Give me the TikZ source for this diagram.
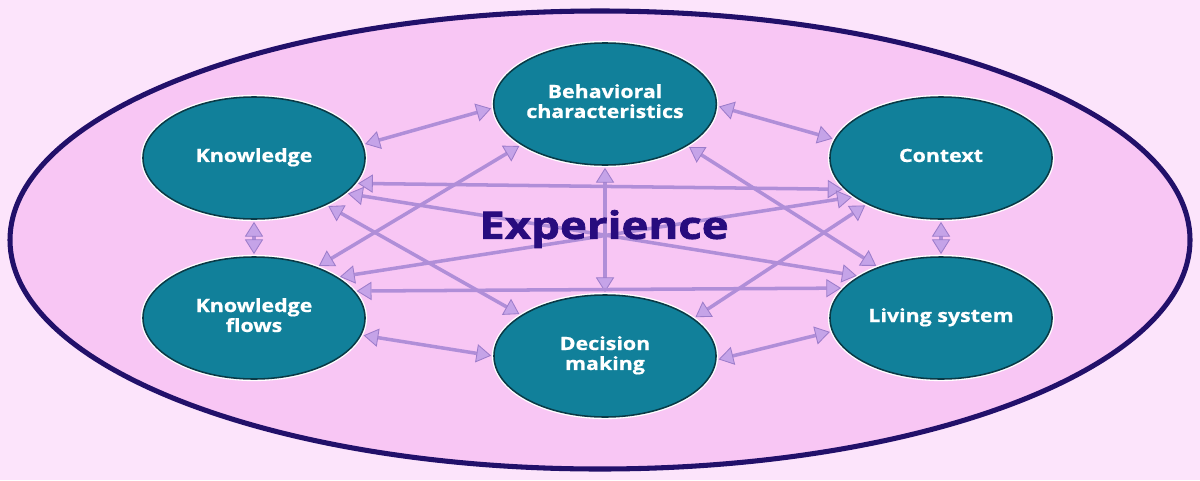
\documentclass[tikz,border=0pt]{standalone}
\usepackage{fontspec}
\setmainfont{Open Sans}
\newfontfamily\expfont{Open Sans}[BoldFeatures={FakeBold=1.6}]
\newfontfamily\lblfont{Open Sans}[BoldFeatures={FakeBold=0.6}]
\usetikzlibrary{shapes.geometric,arrows.meta}
\definecolor{bgc}{HTML}{FCE4FB}
\definecolor{innerc}{HTML}{F8C6F4}
\definecolor{rimc}{HTML}{22106A}
\definecolor{tealc}{HTML}{11809A}
\definecolor{tealrim}{HTML}{0A3A47}
\definecolor{arrc}{HTML}{B08ED8}
\definecolor{tipfill}{HTML}{C5A3E8}
\definecolor{tipline}{HTML}{9C7CCA}
\definecolor{expc}{HTML}{280C7E}
\newcommand{\lbl}[1]{\scalebox{1.17}[1]{\fontsize{13}{14.2}\lblfont\bfseries\begin{tabular}{@{}c@{}}#1\end{tabular}}}
\tikzset{
  topic/.style={ellipse, minimum width=5.55cm, minimum height=3.05cm, inner sep=0pt,
    fill=tealc, draw=tealrim, line width=1.1pt, text=white,
    preaction={draw=white, line width=3pt}},
  arr/.style={draw=arrc, line width=2.5pt, shorten <=1.5pt, shorten >=1.5pt,
    {Triangle[length=10.5pt, width=13pt, fill=tipfill, color=tipline, line width=0.6pt]}-{Triangle[length=10.5pt, width=13pt, fill=tipfill, color=tipline, line width=0.6pt]}}
}
\begin{document}
\begin{tikzpicture}[x=0.025cm, y=-0.025cm]
\useasboundingbox (0,0) rectangle (1200,480);
\fill[bgc] (0,0) rectangle (1200,480);
\draw[fill=innerc, draw=rimc, line width=3.6pt] (600,240) ellipse [x radius=590, y radius=229];

\node[topic] (k)  at (254,158) {\lbl{Knowledge}};
\node[topic] (kf) at (254,318) {\lbl{Knowledge\\flows}};
\node[topic] (b)  at (605,104) {\lbl{Behavioral\\characteristics}};
\node[topic] (d)  at (605,356) {\lbl{Decision\\making}};
\node[topic] (c)  at (941,158) {\lbl{Context}};
\node[topic] (ls) at (941,318) {\lbl{Living system}};

\draw[arr] (k.7.8) -- (b.182);
\draw[arr] (b.-1.5) -- (c.170.5);
\draw[arr] (k.-90) -- (kf.90);
\draw[arr] (c.-90) -- (ls.90);
\draw[arr] (kf.-9.7) -- (d.180);
\draw[arr] (d.-2) -- (ls.187.4);
\draw[arr] (b.-90) -- (d.90);
\draw[arr] (k.-14.8) -- (c.198.9);
\draw[arr] (k.-21.8) -- (ls.153.7);
\draw[arr] (k.-33.2) -- (d.154.9);
\draw[arr] (kf.39.2) -- (b.206.8);
\draw[arr] (kf.26.8) -- (c.204.1);
\draw[arr] (kf.15.7) -- (ls.163.8);
\draw[arr] (b.-27.8) -- (ls.141.3);
\draw[arr] (d.23.9) -- (c.212.7);

\node[text=expc, inner sep=0pt] (exp) at (604,229) {\scalebox{1.2}[1]{\fontsize{27}{30}\expfont\bfseries Experience}};
\end{tikzpicture}
\end{document}
